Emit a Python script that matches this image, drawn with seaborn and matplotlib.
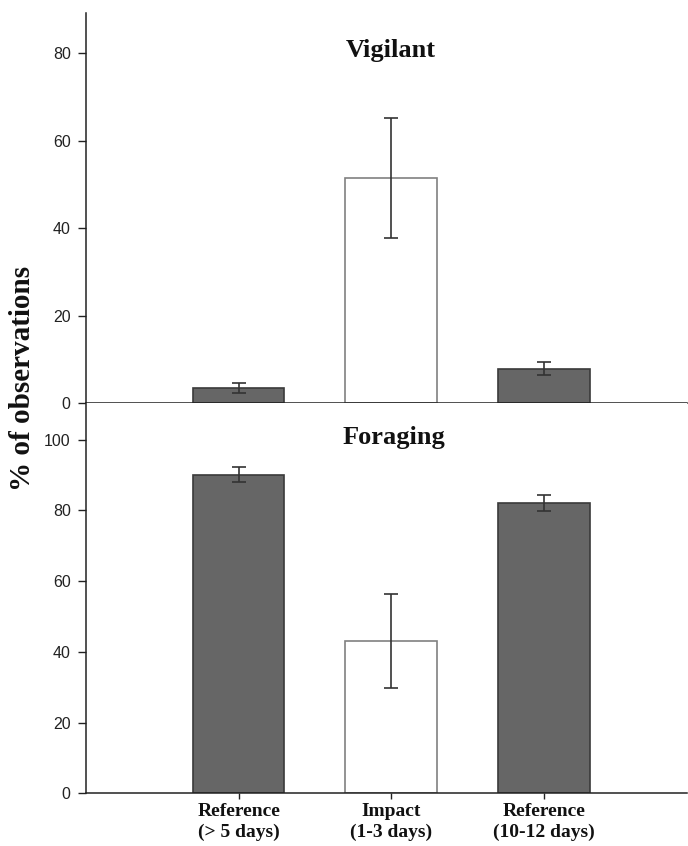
import seaborn as sns
import matplotlib.pyplot as plt
import pandas as pd

groups = ["Reference\n(> 5 days)", "Impact\n(1-3 days)", "Reference\n(10-12 days)"]
vigilant = [3.5, 51.4, 7.9]
vigilant_err = [1.1, 13.7, 1.45]
foraging = [90.0, 43.0, 82.0]
foraging_err = [2.1, 13.3, 2.2]
bar_colors = ["#666666", "#ffffff", "#666666"]
edge_colors = ["#3a3a3a", "#808080", "#3a3a3a"]

sns.set_style("ticks")
plt.rcParams["font.family"] = ["Liberation Sans", "DejaVu Sans"]
serif = ["Liberation Serif", "DejaVu Serif"]

fig = plt.figure(figsize=(6.88, 8.46), dpi=100)
ax_top = fig.add_axes([0.125, 0.5235, 0.874, 0.4611])
ax_bot = fig.add_axes([0.125, 0.0623, 0.874, 0.4612])


def panel(ax, vals, errs, title, ymax, ticks, title_x, title_y):
    df = pd.DataFrame({"group": groups, "value": vals})
    sns.barplot(data=df, x="group", y="value", hue="group", palette=bar_colors,
                width=0.6, saturation=1, legend=False, ax=ax)
    for patch, ec in zip(ax.patches, edge_colors):
        patch.set_edgecolor(ec)
        patch.set_linewidth(1.2)
    ax.errorbar(range(len(vals)), vals, yerr=errs, fmt="none", ecolor="#333333",
                elinewidth=1.2, capsize=5, capthick=1.2, zorder=5)
    ax.set_xlim(-1, 2.94)
    ax.set_ylim(0, ymax)
    ax.set_yticks(ticks)
    ax.set_xlabel("")
    ax.set_ylabel("")
    ax.tick_params(axis="y", length=6, width=1, pad=5, labelsize=11.5, colors="#222222")
    sns.despine(ax=ax)
    for s in ("left", "bottom"):
        ax.spines[s].set_linewidth(1.1)
        ax.spines[s].set_color("#222222")
    ax.text(title_x, title_y, title, ha="center", va="center", fontsize=19,
            fontweight="bold", family=serif, color="#111111")


panel(ax_top, vigilant, vigilant_err, "Vigilant", 89.2, [0, 20, 40, 60, 80], 1.0, 80.7)
panel(ax_bot, foraging, foraging_err, "Foraging", 110.3, [0, 20, 40, 60, 80, 100], 1.02, 100.6)

ax_top.tick_params(axis="x", length=0, labelbottom=False)
ax_bot.tick_params(axis="x", length=4.5, width=1, pad=2.5, colors="#222222")
ax_bot.set_xticks(range(len(groups)))
ax_bot.set_xticklabels(groups, fontsize=14, fontweight="bold", family=serif,
                       color="#111111", linespacing=1.3)

fig.text(0.033, 0.553, "% of observations", rotation=90, ha="center", va="center",
         fontsize=21, fontweight="bold", family=serif, color="#111111")

fig.savefig("out.png", dpi=100)
